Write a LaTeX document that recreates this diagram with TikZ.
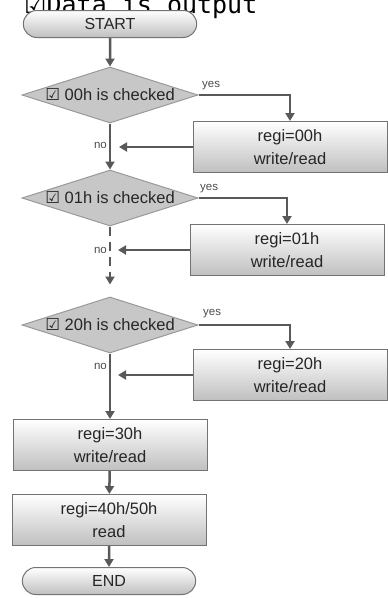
\documentclass[tikz,border=0pt]{standalone}
\usepackage{fontspec}
\setmainfont{Liberation Sans}
\newfontfamily\symfont{DejaVu Sans}
\newfontfamily\titlefont{DejaVu Sans Mono}
\usepackage{tikz}
\usetikzlibrary{arrows.meta}
\usetikzlibrary{shapes.geometric}
\usetikzlibrary{shapes.misc}
\usetikzlibrary{positioning}
\tikzset{>=latex}
\newcommand{\chk}{{\symfont ☑}}
\tikzstyle{term} = [rounded rectangle, draw=black!55, line width=1pt, top color=white, bottom color=black!25, minimum width=180pt, minimum height=27pt, text=black!85, font=\fontsize{16}{18}\selectfont]
\tikzstyle{cond} = [diamond, aspect=3.1, draw=black!40, fill=black!22, line width=1pt, minimum width=176pt, minimum height=56pt, inner sep=0pt, text=black!85, font=\fontsize{16.5}{18}\selectfont]
\tikzstyle{proc} = [rectangle, draw=black!55, line width=1pt, top color=white, bottom color=black!25, minimum width=194pt, minimum height=51pt, align=center, text=black!85, font=\fontsize{16.5}{23}\selectfont]
\tikzstyle{flow} = [-{Triangle[length=8pt,width=9pt]}, line width=2.5pt, draw=black!65]
\tikzstyle{lbl} = [font=\fontsize{11.5}{13}\selectfont, text=black!70, inner sep=0pt]

\begin{document}
\begin{tikzpicture}[x=1pt, y=-1pt]
\clip (0,0) rectangle (388,598);
\node [anchor=base west, inner sep=0pt, font=\fontsize{25}{28}\selectfont] (title) at (24,13) {{\symfont ☑}\titlefont Data is output};

\node [term] (start) at (110,24) {START};
\node [cond] (c00) at (110,95) {\chk\ 00h is checked};
\node [proc] (r00) at (290,147) {regi=00h\\write/read};
\node [cond] (c01) at (110,198) {\chk\ 01h is checked};
\node [proc] (r01) at (287,250) {regi=01h\\write/read};
\node [cond] (c20) at (110,325) {\chk\ 20h is checked};
\node [proc] (r20) at (290,375) {regi=20h\\write/read};
\node [proc] (r30) at (110,445) {regi=30h\\write/read};
\node [proc] (r40) at (109,520) {regi=40h/50h\\read};
\node [term] (end) at (109,581) {END};

\coordinate (j00) at (119,147);
\coordinate (j01) at (118,250);
\coordinate (j20) at (118,375);

% main line
\draw [flow] (start) to (c00);
\draw [flow] (c00) to (c01);
\draw [flow, dash pattern=on 9pt off 6pt, shorten >=12pt] (c01) to (c20);
\draw [flow] (c20) to (r30);
\draw [flow] (r30) to (r40);
\draw [flow] (r40) to (end);

% yes branches
\draw [flow] (c00.east) -| (r00.north);
\draw [flow] (c01.east) -| (r01.north);
\draw [flow] (c20.east) -| (r20.north);
\draw [flow] (r00.west) -- (j00);
\draw [flow] (r01.west) -- (j01);
\draw [flow] (r20.west) -- (j20);

\node [lbl, anchor=west] (y00) at (202,86) {yes};
\node [lbl, anchor=west] (y01) at (200,189) {yes};
\node [lbl, anchor=west] (y20) at (203,314) {yes};
\node [lbl, anchor=east] (n00) at (107,145) {no};
\node [lbl, anchor=east] (n01) at (107,250) {no};
\node [lbl, anchor=east] (n20) at (107,366) {no};
\end{tikzpicture}
\end{document}
